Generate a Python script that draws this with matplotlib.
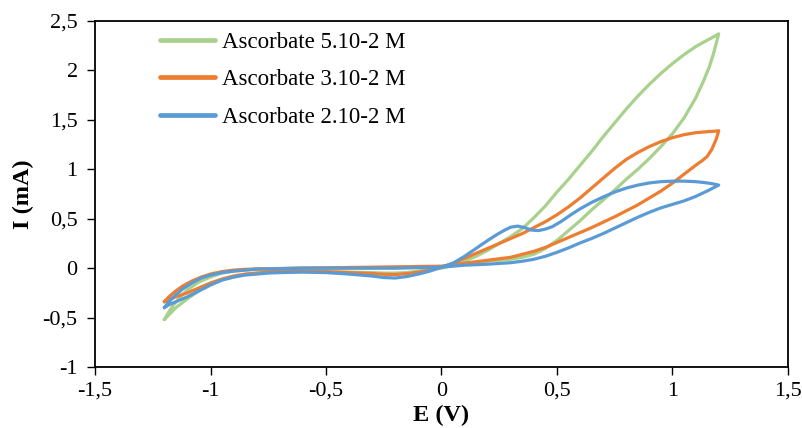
import matplotlib
matplotlib.use("Agg")
import matplotlib.pyplot as plt

plt.rcParams['font.family'] = ['Liberation Serif', 'DejaVu Serif']

labels = ["Ascorbate 5.10-2 M", "Ascorbate 3.10-2 M", "Ascorbate 2.10-2 M"]
colors = ["#A9D18E", "#ED7D31", "#5B9BD5"]

# Green (5.10-2 M): closed CV loop
green_E = [-1.2, -1.18, -1.16, -1.13, -1.1, -1.05, -1.0, -0.95, -0.9, -0.85, -0.8, -0.6, -0.3, 0.0,
           0.05, 0.1, 0.2, 0.3, 0.35, 0.4, 0.45, 0.5, 0.55, 0.6, 0.65, 0.7, 0.75, 0.8, 0.85, 0.9, 0.95,
           1.0, 1.05, 1.1, 1.13, 1.16, 1.18, 1.2,
           1.17, 1.13, 1.1, 1.05, 1.0, 0.95, 0.9, 0.85, 0.8, 0.75, 0.7, 0.65, 0.6, 0.55, 0.5, 0.45, 0.4,
           0.35, 0.3, 0.25, 0.2, 0.15, 0.1, 0.05, 0.0,
           -0.05, -0.1, -0.15, -0.2, -0.25, -0.3, -0.4, -0.5, -0.6, -0.7, -0.75, -0.8, -0.85, -0.9, -0.95,
           -1.0, -1.05, -1.1, -1.15, -1.2]
green_I = [-0.52, -0.44, -0.37, -0.29, -0.22, -0.14, -0.09, -0.05, -0.03, -0.02, -0.01, 0.0, 0.0, 0.01,
           0.03, 0.05, 0.07, 0.09, 0.11, 0.14, 0.20, 0.28, 0.38, 0.48, 0.59, 0.69, 0.79, 0.90, 1.00, 1.11, 1.23,
           1.36, 1.52, 1.72, 1.87, 2.04, 2.19, 2.37,
           2.33, 2.28, 2.24, 2.16, 2.07, 1.97, 1.86, 1.74, 1.61, 1.47, 1.33, 1.18, 1.04, 0.90, 0.77, 0.63, 0.51,
           0.40, 0.32, 0.25, 0.18, 0.12, 0.07, 0.03, 0.0,
           -0.015, -0.03, -0.045, -0.05, -0.05, -0.045, -0.04, -0.035, -0.035, -0.035, -0.04, -0.05, -0.065, -0.09, -0.12,
           -0.17, -0.23, -0.31, -0.40, -0.52]

# Orange (3.10-2 M)
orange_E = [-1.2, -1.18, -1.15, -1.12, -1.08, -1.04, -1.0, -0.95, -0.9, -0.85, -0.8, -0.6, -0.3, 0.0,
            0.05, 0.1, 0.2, 0.3, 0.35, 0.4, 0.45, 0.5, 0.55, 0.6, 0.65, 0.7, 0.75, 0.8, 0.85, 0.9, 0.95,
            1.0, 1.05, 1.1, 1.13, 1.15, 1.17, 1.19, 1.2,
            1.18, 1.15, 1.1, 1.05, 1.0, 0.95, 0.9, 0.85, 0.8, 0.75, 0.7, 0.65, 0.6, 0.55, 0.5, 0.45, 0.4,
            0.35, 0.3, 0.25, 0.2, 0.15, 0.1, 0.05, 0.0,
            -0.05, -0.1, -0.15, -0.2, -0.25, -0.3, -0.4, -0.5, -0.6, -0.7, -0.75, -0.8, -0.85, -0.9, -0.95,
            -1.0, -1.05, -1.1, -1.15, -1.18, -1.2]
orange_I = [-0.34, -0.29, -0.23, -0.18, -0.13, -0.09, -0.06, -0.035, -0.02, -0.012, -0.008, 0.0, 0.01, 0.02,
            0.03, 0.05, 0.08, 0.11, 0.14, 0.17, 0.21, 0.26, 0.31, 0.36, 0.41, 0.465, 0.52, 0.58, 0.64, 0.71, 0.78,
            0.86, 0.95, 1.04, 1.09, 1.13, 1.20, 1.31, 1.39,
            1.385, 1.38, 1.37, 1.35, 1.32, 1.28, 1.23, 1.17, 1.10, 1.01, 0.91, 0.81, 0.71, 0.62, 0.54, 0.47, 0.41,
            0.35, 0.30, 0.25, 0.20, 0.15, 0.10, 0.05, 0.01,
            -0.02, -0.04, -0.055, -0.065, -0.062, -0.055, -0.045, -0.035, -0.033, -0.035, -0.04, -0.05, -0.06, -0.08, -0.11,
            -0.15, -0.20, -0.25, -0.29, -0.32, -0.34]

# Blue (2.10-2 M)
blue_E = [-1.2, -1.18, -1.15, -1.12, -1.08, -1.04, -1.0, -0.95, -0.9, -0.85, -0.8, -0.6, -0.4, -0.2, 0.0,
          0.05, 0.1, 0.2, 0.3, 0.35, 0.4, 0.45, 0.5, 0.55, 0.6, 0.65, 0.7, 0.75, 0.8, 0.85, 0.9, 0.95,
          1.0, 1.05, 1.1, 1.15, 1.2,
          1.17, 1.14, 1.1, 1.05, 1.0, 0.95, 0.9, 0.85, 0.8, 0.75, 0.7, 0.65, 0.6, 0.56, 0.52, 0.48, 0.45,
          0.42, 0.39, 0.36, 0.33, 0.3, 0.27, 0.24, 0.2, 0.15, 0.1, 0.05, 0.0,
          -0.05, -0.1, -0.15, -0.2, -0.25, -0.3, -0.4, -0.5, -0.6, -0.7, -0.75, -0.8, -0.85, -0.9, -0.95,
          -1.0, -1.05, -1.1, -1.15, -1.18, -1.2]
blue_I = [-0.40, -0.34, -0.27, -0.21, -0.15, -0.10, -0.07, -0.045, -0.03, -0.02, -0.01, 0.0, 0.0, 0.0, 0.01,
          0.02, 0.03, 0.04, 0.055, 0.07, 0.09, 0.12, 0.16, 0.205, 0.255, 0.30, 0.35, 0.405, 0.46, 0.515, 0.565, 0.61,
          0.645, 0.68, 0.725, 0.78, 0.84,
          0.855, 0.865, 0.875, 0.88, 0.88, 0.875, 0.862, 0.84, 0.81, 0.77, 0.72, 0.665, 0.60, 0.54, 0.475, 0.42, 0.395,
          0.38, 0.385, 0.41, 0.425, 0.415, 0.38, 0.34, 0.28, 0.20, 0.12, 0.05, 0.01,
          -0.03, -0.06, -0.085, -0.10, -0.095, -0.08, -0.06, -0.045, -0.04, -0.045, -0.05, -0.06, -0.07, -0.09, -0.12,
          -0.17, -0.23, -0.29, -0.34, -0.37, -0.40]

x_ticks = [-1.5, -1, -0.5, 0, 0.5, 1, 1.5]
x_ticklabels = ["-1,5", "-1", "-0,5", "0", "0,5", "1", "1,5"]
y_ticks = [-1, -0.5, 0, 0.5, 1, 1.5, 2, 2.5]
y_ticklabels = ["-1", "-0,5", "0", "0,5", "1", "1,5", "2", "2,5"]

fig = plt.figure(figsize=(8.03, 4.28), dpi=100)
ax = fig.add_axes([95/803, 1 - 367/428, (788 - 95)/803, (367 - 21)/428])

series = [(green_E, green_I), (orange_E, orange_I), (blue_E, blue_I)]
for (E, I), c, lab in zip(series, colors, labels):
    ax.plot(E, I, color=c, lw=2.3, label=lab, solid_joinstyle='round', solid_capstyle='round')

ax.set_xlim(-1.5, 1.5)
ax.set_ylim(-1, 2.5)
ax.set_xticks(x_ticks)
ax.set_xticklabels(x_ticklabels)
ax.set_yticks(y_ticks)
ax.set_yticklabels(y_ticklabels)
ax.tick_params(axis='both', direction='out', length=5.5, width=1, labelsize=16, colors='black')
ax.tick_params(axis='x', pad=5)
ax.tick_params(axis='y', pad=7)
for s in ax.spines.values():
    s.set_linewidth(1.3)
    s.set_color('black')
    s.set_visible(True)

ax.set_xlabel("E (V)", fontsize=17.5, fontweight='bold', labelpad=3)
ax.set_ylabel("I (mA)", fontsize=17.5, fontweight='bold', labelpad=6)

leg = ax.legend(loc='upper left', bbox_to_anchor=(0.081, 0.995), frameon=False, fontsize=16.5,
                handlelength=2.4, handletextpad=0.3, labelspacing=0.72, borderaxespad=0)
for h in leg.get_lines():
    h.set_linewidth(3.4)

fig.savefig("out.png", dpi=100)
